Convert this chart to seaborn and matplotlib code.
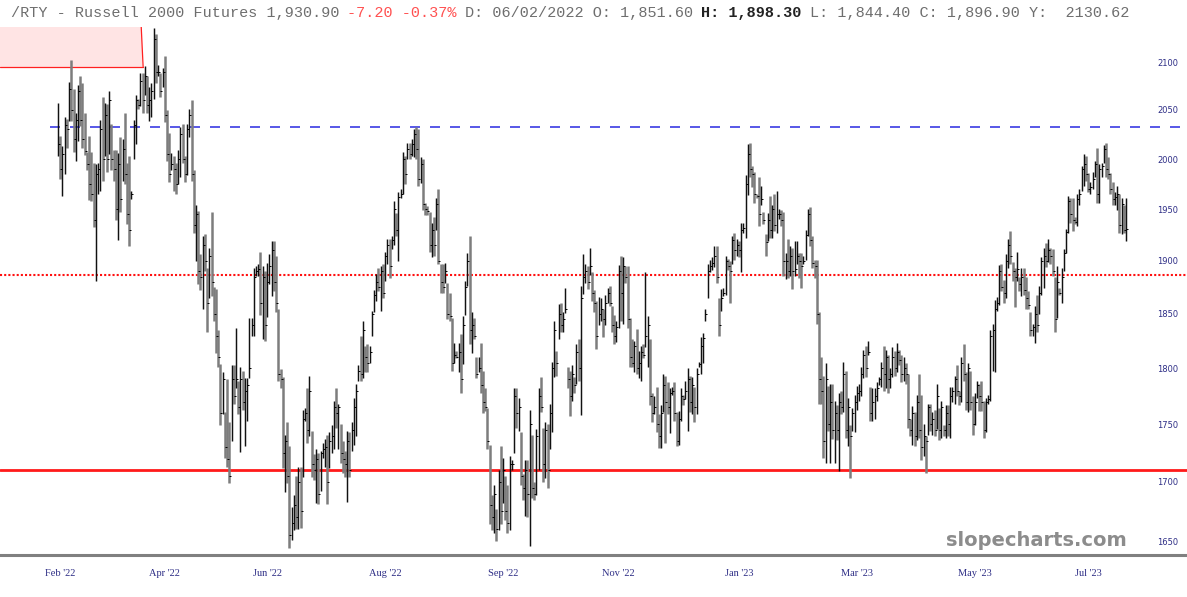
import numpy as np
import pandas as pd
import matplotlib.pyplot as plt
from matplotlib.ticker import NullLocator
import seaborn as sns

# daily bars (Feb 2022 -> Jul 2023)
bar_high = [
    # Feb - May 2022
    2057, 2023, 2013, 2043, 2041, 2079, 2102, 2072, 2047, 2076, 2085, 2078, 2047, 2007, 2023, 2007, 1996, 1995, 1996, 2040,
    2063, 2057, 2056, 2070, 2036, 2009, 2009, 2006, 2022, 2020, 2047, 1996, 2003, 1968, 2040, 2065, 2061, 2088, 2088, 2096,
    2085, 2074, 2078, 2136, 2130, 2097, 2088, 2094, 2106, 2050, 2026, 2006, 2003, 1996, 2009, 2032, 2036, 2003, 2036, 2051,
    2060, 1989, 1954, 1948, 1907, 1924, 1926, 1893, 1912, 1947, 1875, 1873, 1835, 1804, 1797, 1761, 1790, 1752,
    # May - Aug 2022
    1803, 1803, 1837, 1789, 1801, 1798, 1791, 1791, 1846, 1846, 1893, 1895, 1897, 1909, 1895, 1890, 1898, 1907, 1919, 1919,
    1905, 1855, 1799, 1792, 1741, 1752, 1731, 1679, 1689, 1705, 1713, 1713, 1763, 1764, 1782, 1793, 1744, 1724, 1728, 1725,
    1727, 1734, 1737, 1741, 1743, 1749, 1771, 1782, 1768, 1750, 1735, 1727, 1744, 1743, 1752, 1773, 1786, 1803, 1830, 1843,
    1820, 1822, 1820, 1853, 1872, 1888, 1893, 1895, 1897, 1909, 1921, 1921, 1924, 1958, 1946, 1967, 1970, 2007, 2003, 2016,
    2016, 2020, 2030,
    # Aug - Oct 2022
    2032, 2030, 2002, 2000, 1956, 1953, 1947, 1937, 1942, 1961, 1970, 1897, 1897, 1898, 1879, 1870, 1846, 1823, 1816, 1823,
    1831, 1848, 1881, 1908, 1924, 1852, 1846, 1810, 1810, 1823, 1798, 1782, 1764, 1732, 1689, 1697, 1677, 1710, 1731, 1721,
    1705, 1697, 1722, 1719, 1782, 1782, 1773, 1743, 1707, 1719, 1719, 1763, 1741, 1700, 1746, 1782, 1792, 1747, 1752, 1750,
    1768, 1806, 1843, 1816, 1859, 1860, 1852, 1874, 1801, 1798, 1803, 1792, 1822, 1827, 1876, 1907, 1897, 1895, 1912, 1889,
    1872, 1862, 1866,
    # Nov 2022 - Jan 2023
    1865, 1855, 1868, 1874, 1876, 1857, 1849, 1843, 1896, 1905, 1904, 1895, 1895, 1846, 1827, 1825, 1836, 1816, 1820, 1822,
    1889, 1848, 1827, 1778, 1775, 1783, 1759, 1767, 1795, 1793, 1788, 1782, 1783, 1788, 1761, 1762, 1782, 1776, 1789, 1800,
    1793, 1792, 1783, 1800, 1806, 1829, 1832, 1855, 1897, 1901, 1904, 1914, 1914, 1865, 1873, 1874, 1905, 1902, 1900, 1924,
    1927, 1921, 1919, 1937, 1937, 1984, 2015, 2016, 1993, 1987, 1965, 1982, 1973, 1947, 1926, 1946, 1963, 1954, 1965, 1968,
    1950, 1949, 1947,
    # Feb - Apr 2023
    1908, 1921, 1914, 1912, 1919, 1919, 1908, 1908, 1905, 1930, 1950, 1952, 1924, 1901, 1901, 1852, 1810, 1793, 1805, 1784,
    1786, 1786, 1771, 1767, 1778, 1780, 1806, 1798, 1773, 1749, 1764, 1776, 1784, 1786, 1801, 1817, 1820, 1825, 1783, 1782,
    1782, 1788, 1792, 1806, 1820, 1817, 1812, 1800, 1819, 1816, 1823, 1817, 1812, 1810, 1805, 1795, 1755, 1766, 1761, 1776,
    1795, 1776, 1750, 1740, 1768, 1768, 1761, 1763, 1786, 1764, 1771, 1749, 1767, 1767, 1783, 1783, 1793, 1803, 1780, 1810,
    1822, 1797, 1805,
    # May - Jul 2023
    1798, 1775, 1778, 1789, 1786, 1789, 1771, 1773, 1776, 1835, 1841, 1863, 1866, 1896, 1897, 1882, 1907, 1921, 1929, 1899,
    1893, 1909, 1885, 1893, 1893, 1885, 1871, 1852, 1841, 1857, 1868, 1876, 1904, 1912, 1917, 1921, 1912, 1911, 1885, 1895,
    1874, 1893, 1911, 1931, 1963, 1961, 1961, 1942, 1965, 1970, 1993, 2005, 2003, 1986, 1977, 1987, 1998, 2011, 1995, 1996,
    2014, 2016, 2002, 1986, 1977, 1967, 1973, 1965, 1961, 1954, 1961,
]

bar_low = [
    2003, 1980, 1963, 1985, 2011, 2039, 2039, 2007, 1998, 2018, 2033, 2011, 2004, 1989, 1959, 1958, 1933, 1881, 1965, 1968,
    1978, 2003, 1987, 2005, 1989, 1978, 1940, 1920, 1947, 1978, 1975, 1936, 1914, 1960, 2000, 2015, 2051, 2054, 2047, 2065,
    2047, 2039, 2043, 2061, 2078, 2085, 2063, 2074, 2038, 1998, 1977, 1989, 1968, 1965, 1975, 1982, 1996, 1977, 1984, 2022,
    1978, 1927, 1900, 1878, 1872, 1855, 1890, 1833, 1865, 1867, 1843, 1814, 1801, 1749, 1759, 1721, 1713, 1699,
    1735, 1768, 1782, 1759, 1726, 1763, 1731, 1753, 1791, 1830, 1830, 1886, 1886, 1849, 1827, 1825, 1847, 1878, 1867, 1871,
    1852, 1789, 1782, 1712, 1691, 1699, 1644, 1651, 1659, 1660, 1660, 1661, 1704, 1753, 1734, 1740, 1704, 1702, 1682, 1681,
    1692, 1721, 1713, 1681, 1712, 1725, 1728, 1747, 1728, 1716, 1708, 1704, 1683, 1704, 1727, 1732, 1740, 1789, 1789, 1791,
    1797, 1797, 1805, 1830, 1852, 1862, 1871, 1853, 1865, 1881, 1897, 1884, 1911, 1915, 1924, 1900, 1961, 1965, 1975, 2000,
    2000, 2003, 2002,
    2000, 1973, 1976, 1949, 1944, 1944, 1909, 1904, 1905, 1930, 1897, 1870, 1870, 1879, 1845, 1843, 1798, 1805, 1809, 1797,
    1778, 1804, 1849, 1876, 1822, 1814, 1827, 1791, 1797, 1778, 1760, 1762, 1728, 1664, 1659, 1657, 1650, 1659, 1664, 1682,
    1668, 1657, 1659, 1710, 1725, 1747, 1744, 1697, 1685, 1671, 1670, 1646, 1686, 1685, 1689, 1710, 1761, 1700, 1703, 1695,
    1728, 1743, 1792, 1793, 1827, 1833, 1833, 1851, 1782, 1757, 1771, 1778, 1786, 1789, 1758, 1869, 1879, 1873, 1887, 1862,
    1852, 1818, 1840,
    1843, 1829, 1840, 1860, 1857, 1833, 1822, 1824, 1837, 1843, 1841, 1879, 1837, 1801, 1801, 1797, 1795, 1791, 1789, 1809,
    1819, 1801, 1767, 1752, 1759, 1743, 1729, 1729, 1761, 1734, 1759, 1742, 1776, 1753, 1731, 1732, 1753, 1767, 1772, 1744,
    1761, 1759, 1752, 1759, 1801, 1795, 1805, 1843, 1865, 1889, 1891, 1894, 1879, 1830, 1853, 1867, 1868, 1891, 1860, 1897,
    1901, 1905, 1904, 1889, 1927, 1922, 1964, 1982, 1972, 1956, 1961, 1934, 1954, 1936, 1905, 1919, 1922, 1922, 1929, 1927,
    1941, 1934, 1886,
    1883, 1884, 1886, 1873, 1886, 1897, 1884, 1874, 1897, 1901, 1924, 1914, 1893, 1884, 1841, 1768, 1768, 1721, 1716, 1744,
    1716, 1737, 1716, 1736, 1709, 1759, 1761, 1738, 1731, 1703, 1744, 1743, 1763, 1771, 1775, 1791, 1792, 1812, 1753, 1753,
    1755, 1771, 1785, 1783, 1780, 1782, 1778, 1782, 1792, 1793, 1797, 1803, 1788, 1789, 1786, 1747, 1740, 1732, 1731, 1736,
    1738, 1719, 1722, 1708, 1741, 1744, 1741, 1740, 1746, 1736, 1738, 1740, 1738, 1740, 1738, 1770, 1768, 1775, 1767, 1770,
    1789, 1763, 1761,
    1763, 1741, 1749, 1773, 1762, 1762, 1738, 1743, 1768, 1771, 1798, 1797, 1853, 1858, 1871, 1860, 1865, 1893, 1897, 1881,
    1856, 1881, 1871, 1867, 1868, 1855, 1855, 1830, 1830, 1823, 1833, 1850, 1868, 1874, 1894, 1899, 1897, 1886, 1833, 1846,
    1868, 1860, 1890, 1908, 1927, 1937, 1929, 1936, 1934, 1954, 1968, 1973, 1978, 1967, 1965, 1970, 1982, 1956, 1956, 1982,
    1996, 1982, 1980, 1965, 1954, 1954, 1949, 1927, 1926, 1927, 1919,
]

bar_close = [
    2015, 1990, 2005, 2035, 2030, 2072, 2050, 2020, 2040, 2070, 2040, 2020, 2008, 1995, 1975, 1965, 1940, 1985, 1990, 2030,
    2000, 2045, 2000, 2060, 2000, 1990, 1950, 1995, 1960, 2010, 1985, 1945, 1930, 1965, 2035, 2060, 2055, 2080, 2060, 2085,
    2055, 2060, 2070, 2125, 2090, 2090, 2070, 2090, 2045, 2005, 1985, 1995, 1990, 1975, 2000, 2025, 2000, 1985, 2030, 2045,
    1985, 1935, 1945, 1890, 1885, 1915, 1900, 1860, 1905, 1880, 1850, 1830, 1810, 1760, 1790, 1730, 1720, 1705,
    1790, 1775, 1790, 1765, 1790, 1770, 1780, 1785, 1800, 1840, 1885, 1890, 1892, 1860, 1885, 1840, 1880, 1895, 1910, 1880,
    1860, 1795, 1790, 1725, 1735, 1705, 1655, 1665, 1680, 1670, 1700, 1675, 1755, 1760, 1745, 1780, 1715, 1710, 1720, 1690,
    1725, 1728, 1730, 1700, 1735, 1740, 1765, 1760, 1765, 1725, 1720, 1715, 1735, 1710, 1745, 1765, 1780, 1798, 1795, 1835,
    1810, 1805, 1815, 1850, 1868, 1880, 1875, 1890, 1870, 1905, 1915, 1895, 1920, 1950, 1930, 1962, 1965, 2000, 1985, 2010,
    2005, 2015, 2025,
    2010, 1980, 1995, 1955, 1950, 1948, 1915, 1930, 1915, 1955, 1900, 1880, 1875, 1890, 1850, 1848, 1805, 1812, 1810, 1815,
    1790, 1840, 1875, 1900, 1835, 1840, 1830, 1795, 1800, 1785, 1770, 1765, 1735, 1680, 1670, 1690, 1660, 1700, 1675, 1710,
    1675, 1665, 1715, 1715, 1775, 1760, 1765, 1705, 1695, 1710, 1690, 1750, 1695, 1690, 1740, 1775, 1765, 1715, 1745, 1710,
    1760, 1800, 1835, 1805, 1850, 1840, 1845, 1855, 1790, 1775, 1795, 1785, 1815, 1800, 1865, 1885, 1890, 1880, 1895, 1870,
    1860, 1830, 1850,
    1855, 1845, 1860, 1870, 1860, 1840, 1830, 1838, 1890, 1870, 1895, 1885, 1845, 1810, 1805, 1820, 1800, 1805, 1815, 1812,
    1830, 1840, 1775, 1760, 1765, 1750, 1740, 1760, 1785, 1770, 1765, 1778, 1780, 1760, 1735, 1755, 1775, 1772, 1780, 1790,
    1770, 1785, 1765, 1795, 1804, 1820, 1828, 1850, 1890, 1895, 1898, 1905, 1885, 1840, 1865, 1870, 1900, 1895, 1890, 1920,
    1910, 1915, 1910, 1930, 1932, 1975, 2005, 1990, 1985, 1965, 1963, 1945, 1960, 1940, 1918, 1940, 1930, 1950, 1935, 1945,
    1945, 1940, 1900,
    1900, 1890, 1905, 1890, 1892, 1905, 1900, 1895, 1900, 1925, 1945, 1920, 1898, 1895, 1850, 1790, 1780, 1735, 1790, 1750,
    1770, 1745, 1760, 1745, 1770, 1765, 1795, 1745, 1765, 1740, 1760, 1770, 1778, 1780, 1795, 1812, 1800, 1815, 1760, 1770,
    1775, 1782, 1790, 1800, 1795, 1810, 1790, 1795, 1810, 1800, 1815, 1808, 1795, 1800, 1795, 1755, 1745, 1760, 1740, 1770,
    1745, 1730, 1740, 1735, 1765, 1750, 1755, 1745, 1775, 1745, 1765, 1745, 1760, 1750, 1775, 1780, 1790, 1780, 1775, 1805,
    1795, 1770, 1800,
    1770, 1750, 1770, 1785, 1775, 1770, 1745, 1770, 1772, 1830, 1835, 1855, 1860, 1890, 1875, 1870, 1900, 1915, 1905, 1890,
    1885, 1892, 1878, 1885, 1872, 1865, 1858, 1835, 1838, 1850, 1840, 1870, 1900, 1905, 1900, 1910, 1905, 1890, 1845, 1880,
    1870, 1885, 1908, 1928, 1958, 1945, 1940, 1938, 1960, 1965, 1990, 1995, 1985, 1970, 1972, 1980, 1995, 1965, 1990, 1993,
    2010, 1990, 1985, 1970, 1960, 1962, 1965, 1935, 1955, 1930, 1931,
]

month_labels = ["Feb '22", "Apr '22", "Jun '22", "Aug '22", "Sep '22",
                "Nov '22", "Jan '23", "Mar '23", "May '23", "Jul '23"]
month_bars = [1, 48, 94, 147, 200, 252, 306, 359, 412, 463]

y_ticks = [1650, 1700, 1750, 1800, 1850, 1900, 1950, 2000, 2050, 2100]

resistance = 2032   # blue dashed
pivot = 1887        # red dotted
support = 1710      # red solid
zone_low = 2095     # pink supply box, bottom edge

df = pd.DataFrame({'high': bar_high, 'low': bar_low, 'close': bar_close})
df['bar'] = np.arange(len(df))
df['up'] = df['close'] >= df['close'].shift(1).fillna(df['close'].iloc[0])

sns.set_style('white')
plt.rcParams['lines.scale_dashes'] = False

W, H = 1187, 597
fig = plt.figure(figsize=(W / 100, H / 100), dpi=100)
ax = fig.add_axes([0, 1 - 555 / H, 1, (555 - 27) / H])

ax.set_yscale('log')
ax.set_ylim(1638.6, 2137.4)
x_left, x_right = -26.07, len(df) - 1 + 27.4
ax.set_xlim(x_left, x_right)

# supply box top-left
box_edge = 37.75
ax.fill_between([x_left, box_edge], zone_low, 2140, color='#ffe4e4', lw=0, zorder=1)
ax.plot([x_left, box_edge + 0.5], [zone_low, zone_low], color='#ff2020', lw=0.9, zorder=2)
ax.plot([box_edge - 0.4, box_edge + 0.5], [2140, zone_low], color='#ff2020', lw=0.9, zorder=2)

# level lines
ax.axhline(resistance, xmin=50 / W, color='#2a2ae0', lw=1.1, dashes=(7.2, 7.2), zorder=2)
ax.axhline(pivot, color='#ff1010', lw=1.5, dashes=(1.5, 1.5), zorder=2)
ax.axhline(support, color='#ff1a1a', lw=2.0, zorder=2)

# hlc bars
dn = df[~df['up']]
up = df[df['up']]
ax.vlines(dn['bar'], dn['low'], dn['high'], color='#7d7d7d', linewidth=1.8, zorder=3)
ax.vlines(up['bar'], up['low'], up['high'], color='#111111', linewidth=1.05, zorder=4)
sns.scatterplot(data=df, x='bar', y='close', marker=1, s=3, color='black',
                linewidth=0.7, ax=ax, legend=False, zorder=5)
ax.set_xlabel('')
ax.set_ylabel('')

for side in ['top', 'left', 'right']:
    ax.spines[side].set_visible(False)
ax.spines['bottom'].set_color('#808080')
ax.spines['bottom'].set_linewidth(2.2)

ax.set_yticks(y_ticks)
ax.set_yticklabels([str(v) for v in y_ticks])
ax.yaxis.set_minor_locator(NullLocator())
ax.yaxis.tick_right()
ax.tick_params(axis='y', length=0, pad=-21.6, labelsize=6, labelcolor='#2e2e86')

ax.set_xticks(month_bars)
ax.set_xticklabels(month_labels, fontfamily='Liberation Serif', fontsize=7.5, color='#2e2e86')
ax.tick_params(axis='x', length=0, pad=10)

# header line (monospace, coloured pieces)
header_parts = [
    ("/RTY - Russell 2000 Futures 1,930.90 ", '#6e6e6e', 'normal'),
    ("-7.20 -0.37%", '#ff5050', 'normal'),
    (" D: 06/02/2022 O: 1,851.60 ", '#6e6e6e', 'normal'),
    ("H: 1,898.30", '#222222', 'bold'),
    (" L: 1,844.40 C: 1,896.90 Y:  2130.62", '#6e6e6e', 'normal'),
]
head_size = 10.9
char_w = head_size * 100 / 72 * 0.6
col = 0
for txt, c, w in header_parts:
    lead = len(txt) - len(txt.lstrip())
    fig.text((11 + (col + lead) * char_w) / W, 1 - 13 / H, txt.strip(),
             family='Liberation Mono', fontsize=head_size, color=c, weight=w,
             ha='left', va='center')
    col += len(txt)

fig.text(1127 / W, 1 - 540 / H, 'slopecharts.com', ha='right', va='center',
         fontsize=14, fontweight='bold', color='#8c8c8c', family='DejaVu Sans')

fig.savefig('out.png', dpi=100)
